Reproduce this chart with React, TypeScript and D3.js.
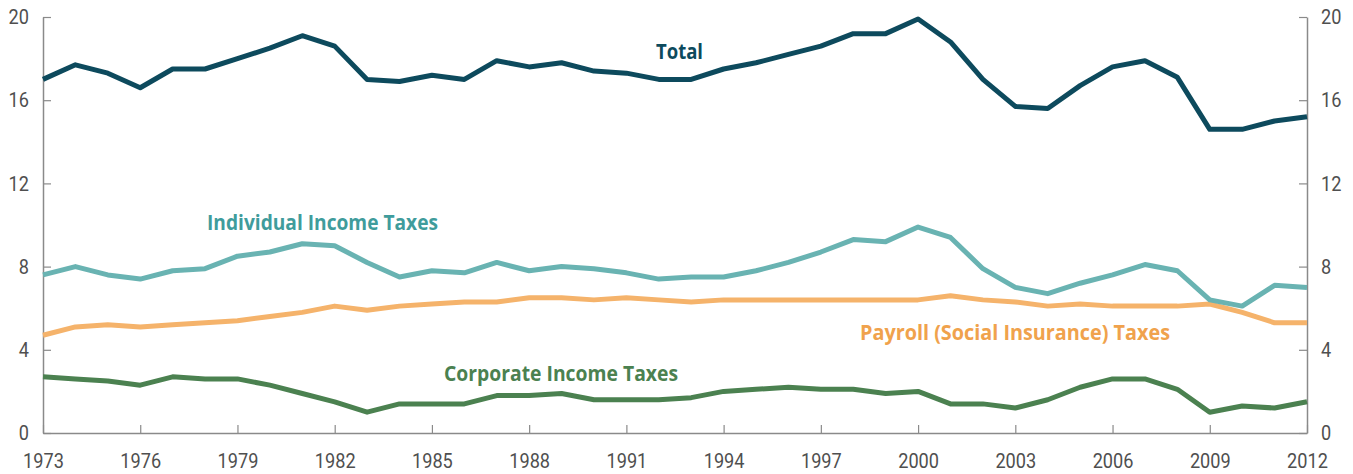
import React, { useRef, useEffect } from "react";
import * as d3 from "d3";

// revenue as % of GDP, 1973-2012
const years = d3.range(1973, 2013);

const total = [
  17.0, 17.7, 17.3, 16.6, 17.5, 17.5, 18.0, 18.5, 19.1, 18.6,
  17.0, 16.9, 17.2, 17.0, 17.9, 17.6, 17.8, 17.4, 17.3, 17.0,
  17.0, 17.5, 17.8, 18.2, 18.6, 19.2, 19.2, 19.9, 18.8, 17.0,
  15.7, 15.6, 16.7, 17.6, 17.9, 17.1, 14.6, 14.6, 15.0, 15.2,
];

const individual = [
  7.6, 8.0, 7.6, 7.4, 7.8, 7.9, 8.5, 8.7, 9.1, 9.0,
  8.2, 7.5, 7.8, 7.7, 8.2, 7.8, 8.0, 7.9, 7.7, 7.4,
  7.5, 7.5, 7.8, 8.2, 8.7, 9.3, 9.2, 9.9, 9.4, 7.9,
  7.0, 6.7, 7.2, 7.6, 8.1, 7.8, 6.4, 6.1, 7.1, 7.0,
];

const payroll = [
  4.7, 5.1, 5.2, 5.1, 5.2, 5.3, 5.4, 5.6, 5.8, 6.1,
  5.9, 6.1, 6.2, 6.3, 6.3, 6.5, 6.5, 6.4, 6.5, 6.4,
  6.3, 6.4, 6.4, 6.4, 6.4, 6.4, 6.4, 6.4, 6.6, 6.4,
  6.3, 6.1, 6.2, 6.1, 6.1, 6.1, 6.2, 5.8, 5.3, 5.3,
];

const corporate = [
  2.7, 2.6, 2.5, 2.3, 2.7, 2.6, 2.6, 2.3, 1.9, 1.5,
  1.0, 1.4, 1.4, 1.4, 1.8, 1.8, 1.9, 1.6, 1.6, 1.6,
  1.7, 2.0, 2.1, 2.2, 2.1, 2.1, 1.9, 2.0, 1.4, 1.4,
  1.2, 1.6, 2.2, 2.6, 2.6, 2.1, 1.0, 1.3, 1.2, 1.5,
];

const xTicks = d3.range(1973, 2013, 3);
const yTicks = [0, 4, 8, 12, 16, 20];

const seriesList = [
  { name: "Total", values: total, color: "#0d4a5d", labelColor: "#0d4a5d", lx: 656, ly: 59, lw: 47 },
  { name: "Individual Income Taxes", values: individual, color: "#69b3b2", labelColor: "#3f9c9c", lx: 207, ly: 230, lw: 231 },
  { name: "Payroll (Social Insurance) Taxes", values: payroll, color: "#f5b36b", labelColor: "#f0a24c", lx: 860, ly: 340, lw: 310 },
  { name: "Corporate Income Taxes", values: corporate, color: "#4b8150", labelColor: "#4b8150", lx: 444, ly: 381, lw: 234 },
];

const width = 1353;
const height = 474;
const margin = { top: 17, right: 46, bottom: 41, left: 43 };

const tickFont = "'Roboto', 'Liberation Sans Narrow', sans-serif";
const labelFont = "'Open Sans', 'Noto Sans', sans-serif";
const digitW = 10.2;

const App = () => {
  const svgRef = useRef<SVGSVGElement>(null);

  useEffect(() => {
    const svg = d3.select(svgRef.current);
    svg.selectAll("*").remove();

    const x = d3.scaleLinear()
      .domain([1973, 2012])
      .range([margin.left, width - margin.right]);
    const y = d3.scaleLinear()
      .domain([0, 20])
      .range([height - margin.bottom, margin.top]);

    const axisColor = "#8a8a8a";
    const textColor = "#4f4f4f";

    const styleTicks = (g: d3.Selection<SVGGElement, unknown, null, undefined>) => {
      g.select(".domain").attr("stroke", axisColor).attr("stroke-width", 1.5);
      g.selectAll(".tick line").attr("stroke", axisColor).attr("stroke-width", 1.2);
      g.selectAll<SVGTextElement, number>(".tick text")
        .attr("fill", textColor)
        .attr("textLength", d => String(d).length * digitW)
        .attr("lengthAdjust", "spacingAndGlyphs")
        .style("font-family", tickFont)
        .style("font-weight", 400)
        .style("font-size", "21px");
    };

    // bottom axis with inward ticks
    const gx = svg.append("g")
      .attr("transform", `translate(0,${y(0)})`)
      .call(d3.axisBottom(x).tickValues(xTicks).tickFormat(d3.format("d")).tickSizeInner(-8).tickSizeOuter(0));
    styleTicks(gx as any);
    gx.selectAll(".tick text").attr("y", 35).attr("dy", 0);

    const gl = svg.append("g")
      .attr("transform", `translate(${x(1973)},0)`)
      .call(d3.axisLeft(y).tickValues(yTicks).tickSizeInner(-8).tickSizeOuter(0).tickPadding(14));
    styleTicks(gl as any);

    const gr = svg.append("g")
      .attr("transform", `translate(${x(2012)},0)`)
      .call(d3.axisRight(y).tickValues(yTicks).tickSizeInner(-8).tickSizeOuter(0).tickPadding(14));
    styleTicks(gr as any);

    const line = d3.line<number>()
      .x((_, i) => x(years[i]))
      .y(d => y(d));

    // draw bottom-most first so Total sits on top
    [...seriesList].reverse().forEach(s => {
      svg.append("path")
        .datum(s.values)
        .attr("d", line)
        .attr("fill", "none")
        .attr("stroke", s.color)
        .attr("stroke-width", 5)
        .attr("stroke-linejoin", "round");
    });

    seriesList.forEach(s => {
      svg.append("text")
        .attr("x", s.lx)
        .attr("y", s.ly)
        .attr("fill", s.labelColor)
        .attr("textLength", s.lw)
        .attr("lengthAdjust", "spacingAndGlyphs")
        .style("font-family", labelFont)
        .style("font-weight", 700)
        .style("font-size", "22px")
        .text(s.name);
    });
  }, []);

  return (
    <svg
      ref={svgRef}
      width={width}
      height={height}
      style={{ display: "block", position: "absolute", left: 0, top: 0, background: "#fff" }}
    />
  );
};

export default App;
